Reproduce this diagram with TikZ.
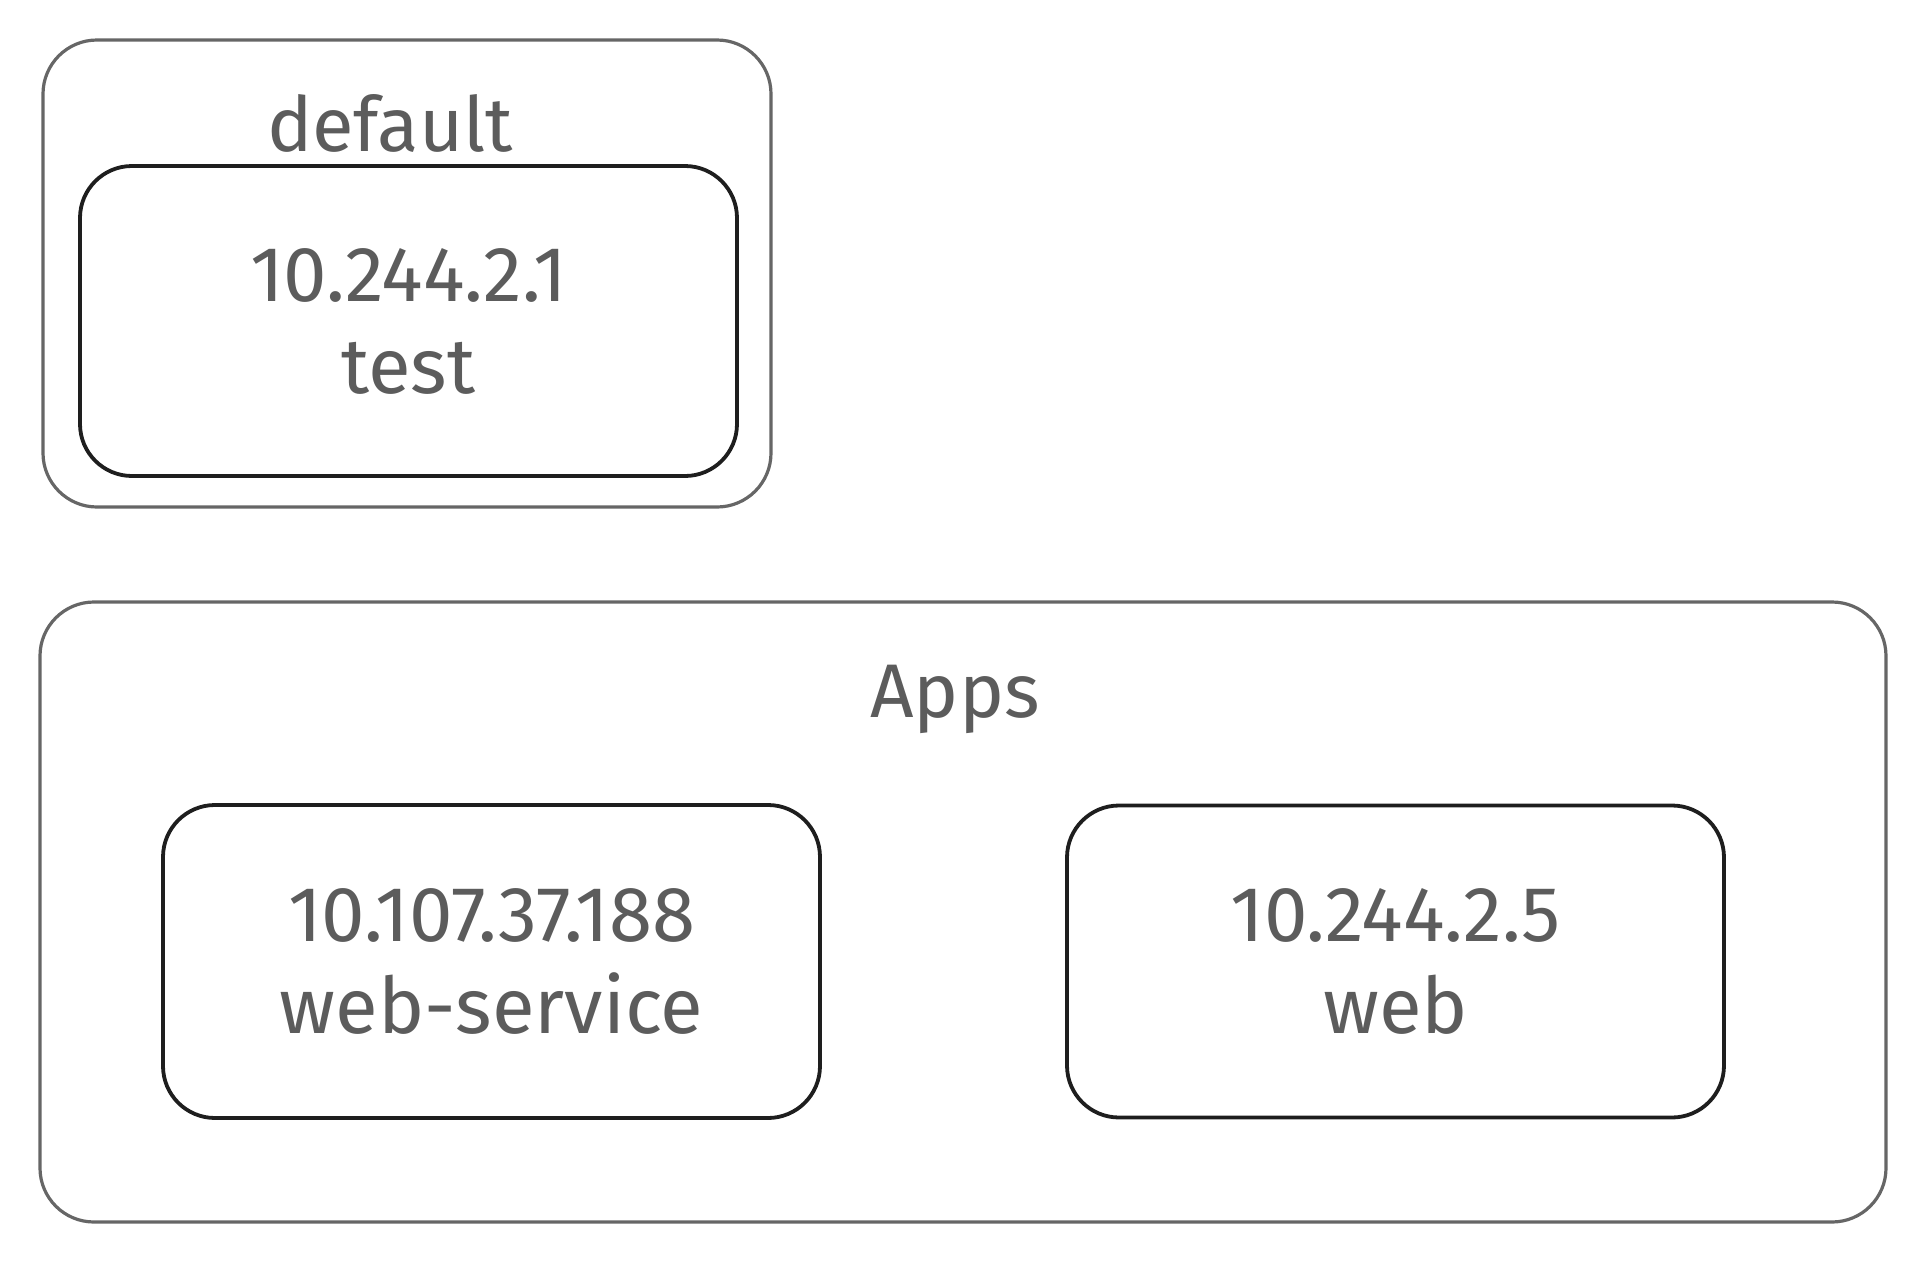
\documentclass[tikz,border=0pt]{standalone}
\usepackage{fontspec}
\setmainfont{Fira Sans}
\usepackage{tikz}
\usetikzlibrary{positioning}
\definecolor{penGray}{HTML}{666666}
\definecolor{penDark}{HTML}{1E1E1E}
\definecolor{inkGray}{HTML}{5C5C5C}
\tikzstyle{nsbox} = [draw=penGray, line width=1.6pt, rounded corners=27pt, inner sep=0pt]
\tikzstyle{podbox} = [draw=penDark, line width=1.9pt, rounded corners=26pt, minimum width=328.5pt, minimum height=155pt, align=center, text=inkGray, font=\fontsize{39}{46}\selectfont]
\tikzstyle{title} = [text=inkGray, font=\fontsize{38}{46}\selectfont]

\begin{document}
\begin{tikzpicture}
    \useasboundingbox (0,0) rectangle (962pt,-632pt);
    % namespace default
    \node[nsbox, minimum width=364pt, minimum height=233.5pt] (default) at (203.5pt,-136.75pt) {};
    \node[title] (defaultlbl) at (195pt,-61.5pt) {default};
    \node[podbox] (test) at (204.25pt,-160.5pt) {10.244.2.1\\test};
    % namespace Apps
    \node[nsbox, minimum width=923pt, minimum height=310pt] (apps) at (481.5pt,-456pt) {};
    \node[title] (appslbl) at (477.5pt,-349.5pt) {Apps};
    \node[podbox, minimum height=156.5pt] (ws) at (245.75pt,-480.75pt) {10.107.37.188\\web-service};
    \node[podbox, minimum height=156pt, right of=ws, node distance=452pt] (web) {10.244.2.5\\web};
\end{tikzpicture}
\end{document}
